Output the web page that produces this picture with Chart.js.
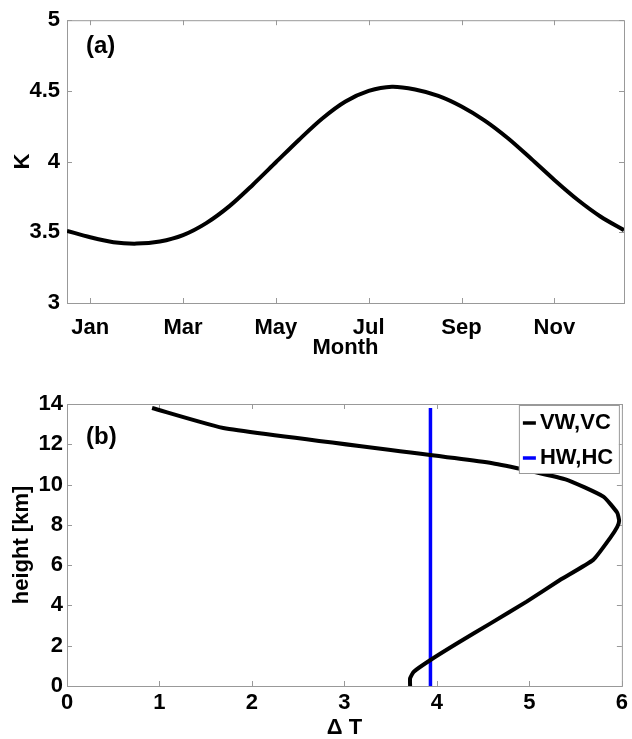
<html lang="en">
<head>
<meta charset="UTF-8">
<title>Delta T panels</title>
<script src="https://cdn.jsdelivr.net/npm/chart.js@4.4.1/dist/chart.umd.min.js"></script>
<style>
  body { margin: 0; background: #fff; }
  canvas { position: absolute; left: 0; }
  #top { top: 0; }
  #bottom { top: 366px; }
</style>
</head>
<body>
<canvas id="top" width="632" height="370"></canvas>
<canvas id="bottom" width="632" height="373"></canvas>
<script>
// panel (a): seasonal cycle
const months = [0.5, 1, 1.5, 2, 2.5, 3, 3.5, 4, 4.5, 5, 5.5, 6, 6.5, 7, 7.5, 8, 8.5, 9, 9.5, 10, 10.5, 11, 11.5, 12, 12.5];
const kValues = [3.51, 3.465, 3.43, 3.42, 3.435, 3.48, 3.565, 3.685, 3.835, 3.995, 4.155, 4.305, 4.425, 4.5, 4.53, 4.51, 4.465, 4.39, 4.29, 4.165, 4.02, 3.87, 3.73, 3.61, 3.515];
const monthTicks = [1, 3, 5, 7, 9, 11];
const monthNames = ['Jan', 'Mar', 'May', 'Jul', 'Sep', 'Nov'];

// panel (b): vertical profile
const heights = [0.0, 0.38, 0.71, 1.29, 2.12, 3.11, 4.19, 5.26, 6.26, 7.33, 7.9, 8.2, 8.6, 9.4, 10.26, 11.06, 12.78, 13.8];
const dtVertical = [3.71, 3.71, 3.75, 3.93, 4.22, 4.58, 4.97, 5.33, 5.69, 5.87, 5.95, 5.97, 5.95, 5.8, 5.39, 4.6, 1.72, 0.92];
const hwHeights = [0, 13.8];
const hwValue = 3.93;

const FONT = "'Liberation Sans', Arial, sans-serif";
const GREY = '#999999';

// box round the plot, with small inward ticks on all four sides
const frame = {
  id: 'frame',
  beforeDatasetsDraw(chart) {
    const a = chart.chartArea, ctx = chart.ctx;
    ctx.save();
    ctx.strokeStyle = GREY;
    ctx.lineWidth = 1;
    ctx.strokeRect(a.left + 0.5, a.top + 0.5, a.right - a.left, a.bottom - a.top);
    ctx.beginPath();
    chart.scales.x.ticks.forEach(t => {
      const px = Math.round(chart.scales.x.getPixelForValue(t.value)) + 0.5;
      ctx.moveTo(px, a.bottom); ctx.lineTo(px, a.bottom - 5);
      ctx.moveTo(px, a.top); ctx.lineTo(px, a.top + 5);
    });
    chart.scales.y.ticks.forEach(t => {
      const py = Math.round(chart.scales.y.getPixelForValue(t.value)) + 0.5;
      ctx.moveTo(a.left, py); ctx.lineTo(a.left + 5, py);
      ctx.moveTo(a.right, py); ctx.lineTo(a.right - 5, py);
    });
    ctx.stroke();
    ctx.restore();
  },
  afterDraw(chart) {
    const o = chart.options.plugins.frame || {};
    const a = chart.chartArea, ctx = chart.ctx;
    ctx.save();
    ctx.fillStyle = '#000';
    ctx.font = 'bold 24px ' + FONT;
    ctx.textBaseline = 'alphabetic';
    ctx.fillText(o.tag, a.left + 19, a.top + o.tagY);
    if (o.legend) {
      const bx = a.right - 103, by = a.top + 1, bw = 100, bh = 68;
      ctx.fillStyle = '#fff';
      ctx.fillRect(bx, by, bw, bh);
      ctx.strokeStyle = GREY;
      ctx.lineWidth = 1;
      ctx.strokeRect(bx + 0.5, by + 0.5, bw, bh);
      ctx.font = 'bold 22px ' + FONT;
      ctx.textBaseline = 'middle';
      chart.data.datasets.forEach((ds, i) => {
        const cy = by + 18 + i * 35;
        ctx.strokeStyle = ds.borderColor;
        ctx.lineWidth = 3.5;
        ctx.beginPath();
        ctx.moveTo(bx + 4, cy); ctx.lineTo(bx + 17, cy);
        ctx.stroke();
        ctx.fillStyle = '#000';
        ctx.fillText(ds.label, bx + 21, cy);
      });
    }
    ctx.restore();
  }
};

function axisFont(size) {
  return { family: FONT, size: size, weight: 'bold' };
}

new Chart(document.getElementById('top'), {
  type: 'scatter',
  data: {
    datasets: [{
      label: 'K',
      data: months.map((m, i) => ({ x: m, y: kValues[i] })),
      showLine: true,
      borderColor: '#000',
      borderWidth: 4,
      pointRadius: 0,
      tension: 0.3
    }]
  },
  options: {
    responsive: false,
    animation: false,
    layout: { padding: { left: 0, top: 20, right: 8, bottom: 0 } },
    plugins: {
      legend: { display: false },
      tooltip: { enabled: false },
      frame: { tag: '(a)', tagY: 33 }
    },
    scales: {
      x: {
        type: 'linear', min: 0.5, max: 12.5,
        afterBuildTicks(scale) { scale.ticks = monthTicks.map(v => ({ value: v })); },
        afterFit(scale) { scale.height = 67; },
        grid: { display: false, drawTicks: false },
        border: { display: false },
        ticks: {
          color: '#000', font: axisFont(22), padding: 12, maxRotation: 0,
          callback: v => monthNames[monthTicks.indexOf(v)]
        },
        title: { display: true, text: 'Month', color: '#000', font: axisFont(22), padding: { top: 0, bottom: 9 } }
      },
      y: {
        min: 3, max: 5,
        afterFit(scale) { scale.width = 67; },
        grid: { display: false, drawTicks: false },
        border: { display: false },
        ticks: { stepSize: 0.5, color: '#000', font: axisFont(22), padding: 7, callback: v => String(v) },
        title: { display: true, text: 'K', color: '#000', font: axisFont(22), padding: { top: 10, bottom: 0 } }
      }
    }
  },
  plugins: [frame]
});

new Chart(document.getElementById('bottom'), {
  type: 'scatter',
  data: {
    datasets: [{
      label: 'VW,VC',
      data: heights.map((h, i) => ({ x: dtVertical[i], y: h })),
      showLine: true,
      borderColor: '#000',
      borderWidth: 4,
      pointRadius: 0,
      tension: 0.15
    }, {
      label: 'HW,HC',
      data: hwHeights.map(h => ({ x: hwValue, y: h })),
      showLine: true,
      borderColor: '#0000ff',
      borderWidth: 3.5,
      pointRadius: 0
    }]
  },
  options: {
    responsive: false,
    animation: false,
    layout: { padding: { left: 0, top: 38, right: 8, bottom: 0 } },
    plugins: {
      legend: { display: false },
      tooltip: { enabled: false },
      frame: { tag: '(b)', tagY: 40, legend: true }
    },
    scales: {
      x: {
        type: 'linear', min: 0, max: 6,
        afterFit(scale) { scale.height = 53; },
        grid: { display: false, drawTicks: false },
        border: { display: false },
        ticks: { stepSize: 1, color: '#000', font: axisFont(22), padding: 4, maxRotation: 0 },
        title: { display: true, text: 'Δ T', color: '#000', font: { family: FONT, size: 22, weight: 'bold', lineHeight: 1 }, padding: { top: 0, bottom: 0 } }
      },
      y: {
        min: 0, max: 14,
        afterFit(scale) { scale.width = 67; },
        grid: { display: false, drawTicks: false },
        border: { display: false },
        ticks: { stepSize: 2, color: '#000', font: axisFont(22), padding: 4 },
        title: { display: true, text: 'height [km]', color: '#000', font: axisFont(22), padding: { top: 9, bottom: 0 } }
      }
    }
  },
  plugins: [frame]
});
</script>
</body>
</html>
